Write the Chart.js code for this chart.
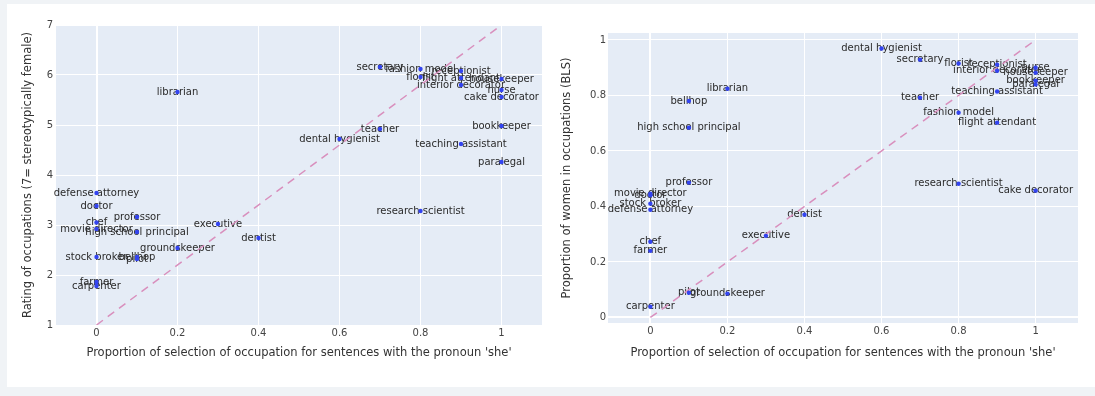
<!DOCTYPE html>
<html>
<head>
<meta charset="utf-8">
<script src="https://cdn.jsdelivr.net/npm/chart.js@4.4.0/dist/chart.umd.min.js"></script>
<style>
  html, body { margin: 0; padding: 0; background: #f0f3f6; }
  body { width: 1095px; height: 396px; position: relative; overflow: hidden; font-family: "DejaVu Sans", sans-serif; }
  #card { position: absolute; left: 7px; top: 4px; width: 1088px; height: 383px; background: #fff; }
  .box { position: absolute; top: 0; height: 396px; }
  #boxLeft { left: 0; width: 560px; }
  #boxRight { left: 560px; width: 535px; }
</style>
</head>
<body>
<div id="card"></div>
<div class="box" id="boxLeft"><canvas id="chartLeft"></canvas></div>
<div class="box" id="boxRight"><canvas id="chartRight"></canvas></div>
<script>
// occupations, one entry per point (same order in every array)
const occupations = [
  'librarian', 'secretary', 'fashion model', 'florist', 'flight attendant',
  'receptionist', 'housekeeper', 'interior decorator', 'nurse', 'cake decorator',
  'teacher', 'dental hygienist', 'bookkeeper', 'teaching assistant', 'paralegal',
  'research scientist', 'defense attorney', 'doctor', 'professor', 'chef',
  'movie director', 'high school principal', 'executive', 'dentist', 'groundskeeper',
  'stock broker', 'bellhop', 'pilot', 'farmer', 'carpenter'
];

// x: proportion of 'she' selections
const sheShare = [
  0.2, 0.7, 0.8, 0.8, 0.9,
  0.9, 1.0, 0.9, 1.0, 1.0,
  0.7, 0.6, 1.0, 0.9, 1.0,
  0.8, 0, 0, 0.1, 0,
  0, 0.1, 0.3, 0.4, 0.2,
  0, 0.1, 0.1, 0, 0
];

// left y: stereotype rating (7 = female)
const ratings = [
  5.66, 6.16, 6.12, 5.96, 5.94,
  6.08, 5.92, 5.8, 5.7, 5.56,
  4.92, 4.72, 4.98, 4.62, 4.26,
  3.28, 3.64, 3.38, 3.16, 3.05,
  2.92, 2.86, 3.02, 2.74, 2.54,
  2.36, 2.36, 2.32, 1.86, 1.78
];

// right y: share of women (BLS)
const womenShare = [
  0.824, 0.929, 0.738, 0.915, 0.702,
  0.911, 0.882, 0.889, 0.9, 0.457,
  0.792, 0.969, 0.853, 0.814, 0.839,
  0.482, 0.388, 0.44, 0.486, 0.273,
  0.446, 0.684, 0.294, 0.37, 0.086,
  0.41, 0.78, 0.089, 0.24, 0.039
];

// y = x reference line ends
const diagX = [0, 1];
const diagYLeft = [1, 7];
const diagYRight = [0, 1];

const xTicks = [0, 0.2, 0.4, 0.6, 0.8, 1];
const xTickLabels = ['0', '0.2', '0.4', '0.6', '0.8', '1'];
const yTicksLeft = [1, 2, 3, 4, 5, 6, 7];
const yTickLabelsLeft = ['1', '2', '3', '4', '5', '6', '7'];
const yTicksRight = [0, 0.2, 0.4, 0.6, 0.8, 1];
const yTickLabelsRight = ['0', '0.2', '0.4', '0.6', '0.8', '1'];

const xTitle = "Proportion of selection of occupation for sentences with the pronoun 'she'";

// text labels centred on each point, drawn under the markers
const pointLabels = {
  id: 'pointLabels',
  beforeDatasetsDraw(chart) {
    const ctx = chart.ctx;
    const meta = chart.getDatasetMeta(0);
    ctx.save();
    ctx.font = '10px "DejaVu Sans"';
    ctx.fillStyle = '#2a2a2a';
    ctx.textAlign = 'center';
    ctx.textBaseline = 'middle';
    meta.data.forEach((pt, i) => ctx.fillText(occupations[i], pt.x, pt.y));
    ctx.restore();
  }
};

const plotBg = {
  id: 'plotBg',
  beforeDraw(chart) {
    const {ctx, chartArea: a} = chart;
    ctx.save();
    ctx.fillStyle = '#e5ecf6';
    ctx.fillRect(a.left, a.top, a.right - a.left, a.bottom - a.top);
    ctx.restore();
  }
};

function makeChart(canvasId, yValues, diagY, s) {
  return new Chart(document.getElementById(canvasId), {
    type: 'scatter',
    data: {
      datasets: [
        {
          data: sheShare.map((x, i) => ({x: x, y: yValues[i]})),
          backgroundColor: '#3344f0',
          borderWidth: 0,
          pointRadius: 2.2,
        },
        {
          type: 'line',
          data: diagX.map((x, i) => ({x: x, y: diagY[i]})),
          borderColor: '#d98fbd',
          borderWidth: 1.5,
          borderDash: [8, 6],
          pointRadius: 0,
          fill: false,
        }
      ]
    },
    options: {
      responsive: true,
      maintainAspectRatio: false,
      animation: false,
      devicePixelRatio: 1,
      layout: { padding: { top: s.top, right: s.right, left: 0, bottom: 0 } },
      plugins: { legend: { display: false }, tooltip: { enabled: false } },
      scales: {
        x: {
          type: 'linear',
          min: s.xMin,
          max: s.xMax,
          afterBuildTicks: sc => { sc.ticks = xTicks.map(v => ({value: v})); },
          afterFit: sc => { sc.height = s.xHeight; },
          ticks: {
            callback: (v, i) => xTickLabels[i],
            font: { family: 'DejaVu Sans', size: 10 },
            color: '#444',
            padding: 2,
            maxRotation: 0,
          },
          grid: {
            color: '#fff',
            drawTicks: false,
            lineWidth: c => (c.tick && c.tick.value === 0 ? 2 : 1),
          },
          border: { display: false },
          title: {
            display: true,
            text: xTitle,
            font: { family: 'DejaVu Sans', size: 11.5 },
            color: '#333',
            padding: { top: 0, bottom: 36 },
          },
        },
        y: {
          type: 'linear',
          min: s.yMin,
          max: s.yMax,
          afterBuildTicks: sc => { sc.ticks = s.yTicks.map(v => ({value: v})); },
          afterFit: sc => { sc.width = s.yWidth; },
          ticks: {
            callback: (v, i) => s.yTickLabels[i],
            font: { family: 'DejaVu Sans', size: 10 },
            color: '#444',
            padding: s.yPad,
          },
          grid: {
            color: '#fff',
            drawTicks: false,
            lineWidth: c => (c.tick && c.tick.value === 0 ? 2 : 1),
          },
          border: { display: false },
          title: {
            display: true,
            text: s.yTitle,
            font: { family: 'DejaVu Sans', size: 11.5 },
            color: '#333',
            padding: { top: s.yTitlePad, bottom: 0 },
          },
        }
      }
    },
    plugins: [plotBg, pointLabels]
  });
}

makeChart('chartLeft', ratings, diagYLeft, {
  top: 25, right: 18, xHeight: 71, yWidth: 56, yPad: 3, yTitlePad: 21,
  xMin: -0.1, xMax: 1.1, yMin: 1, yMax: 7,
  yTicks: yTicksLeft, yTickLabels: yTickLabelsLeft,
  yTitle: 'Rating of occupations (7= stereotypically female)'
});

makeChart('chartRight', womenShare, diagYRight, {
  top: 33, right: 17, xHeight: 73, yWidth: 48, yPad: 2, yTitlePad: 0,
  xMin: -0.11, xMax: 1.11, yMin: -0.02, yMax: 1.025,
  yTicks: yTicksRight, yTickLabels: yTickLabelsRight,
  yTitle: 'Proportion of women in occupations (BLS)'
});
</script>
</body>
</html>
